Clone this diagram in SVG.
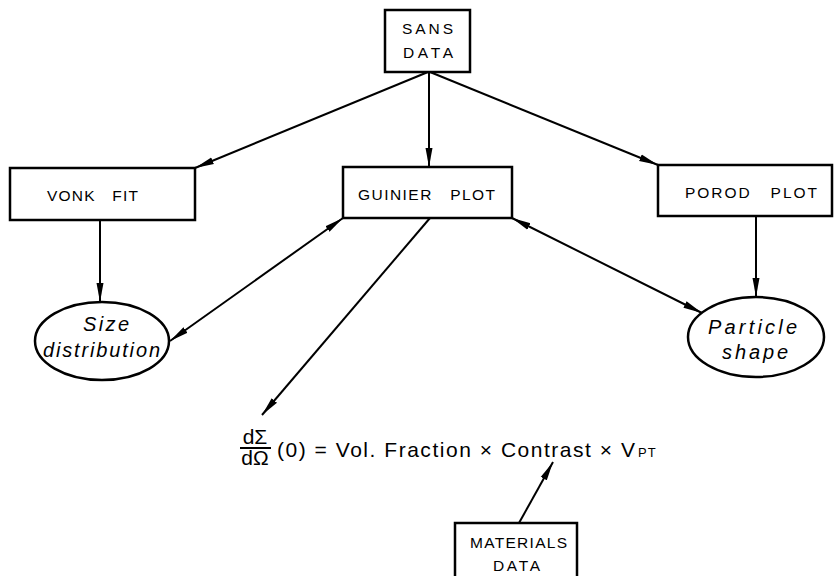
<svg xmlns="http://www.w3.org/2000/svg" width="834" height="576" viewBox="0 0 834 576">
  <style>
    .box { fill: #fff; stroke: #000; stroke-width: 2.5; }
    .oval { fill: #fff; stroke: #000; stroke-width: 2.5; }
    .lbl { font-family: "Liberation Sans", Arial, sans-serif; font-size: 15.5px; fill: #000; white-space: pre; }
    .ital { font-family: "Liberation Sans", Arial, sans-serif; font-size: 20px; font-style: italic; fill: #000; }
    .eq { font-family: "Liberation Sans", Arial, sans-serif; font-size: 21px; fill: #000; white-space: pre; }
    .sub { font-family: "Liberation Sans", Arial, sans-serif; font-size: 13px; fill: #000; letter-spacing: 1px; }
    .edge { stroke: #000; stroke-width: 2; fill: none; }
  </style>
  <defs>
    <marker id="head" markerUnits="userSpaceOnUse" markerWidth="20" markerHeight="10" refX="19" refY="5" orient="auto-start-reverse">
      <path d="M0,1.5 L19,5 L0,8.5 z" fill="#000"/>
    </marker>
  </defs>

  <rect width="834" height="576" fill="#fff"/>

  <g id="connectors">
    <line class="edge" x1="428" y1="72" x2="195" y2="168" marker-end="url(#head)"/>
    <line class="edge" x1="429" y1="72" x2="429" y2="167" marker-end="url(#head)"/>
    <line class="edge" x1="430" y1="72" x2="658" y2="165" marker-end="url(#head)"/>
    <line class="edge" x1="100" y1="220" x2="100" y2="302" marker-end="url(#head)"/>
    <line class="edge" x1="756" y1="216" x2="756" y2="297" marker-end="url(#head)"/>
    <line class="edge" x1="170" y1="341" x2="343" y2="218" marker-start="url(#head)" marker-end="url(#head)"/>
    <line class="edge" x1="512" y1="218" x2="702" y2="313" marker-start="url(#head)" marker-end="url(#head)"/>
    <line class="edge" x1="430" y1="218" x2="262" y2="415" marker-end="url(#head)"/>
    <line class="edge" x1="519" y1="523" x2="553" y2="462" marker-end="url(#head)"/>
  </g>

  <g id="sans-data">
    <rect class="box" x="385" y="10" width="85" height="62"/>
    <text class="lbl" x="402" y="34" textLength="51" lengthAdjust="spacing">SANS</text>
    <text class="lbl" x="403" y="58" textLength="50" lengthAdjust="spacing">DATA</text>
  </g>

  <g id="vonk-fit">
    <rect class="box" x="10" y="168" width="185" height="52"/>
    <text class="lbl" x="47" y="201" textLength="91" lengthAdjust="spacing">VONK   FIT</text>
  </g>

  <g id="guinier-plot">
    <rect class="box" x="343" y="167" width="169" height="51"/>
    <text class="lbl" x="358" y="200" textLength="137" lengthAdjust="spacing">GUINIER   PLOT</text>
  </g>

  <g id="porod-plot">
    <rect class="box" x="658" y="165" width="174" height="51"/>
    <text class="lbl" x="685" y="198" textLength="132" lengthAdjust="spacing">POROD   PLOT</text>
  </g>

  <g id="size-distribution">
    <ellipse class="oval" cx="102" cy="341" rx="67" ry="39"/>
    <text class="ital" x="83" y="331" textLength="46" lengthAdjust="spacing">Size</text>
    <text class="ital" x="43" y="357" textLength="117" lengthAdjust="spacing">distribution</text>
  </g>

  <g id="particle-shape">
    <ellipse class="oval" cx="756" cy="337" rx="68" ry="40"/>
    <text class="ital" x="708" y="334" textLength="89" lengthAdjust="spacing">Particle</text>
    <text class="ital" x="722" y="359" textLength="66" lengthAdjust="spacing">shape</text>
  </g>

  <g id="formula">
    <text class="eq" x="255" y="444" text-anchor="middle" font-size="17">dΣ</text>
    <line x1="240" y1="448" x2="271" y2="448" stroke="#000" stroke-width="2"/>
    <text class="eq" x="255" y="465" text-anchor="middle" font-size="17">dΩ</text>
    <text class="eq" x="277" y="457" textLength="358" lengthAdjust="spacing">(0) = Vol. Fraction × Contrast × V</text>
    <text class="sub" x="638" y="457">PT</text>
  </g>

  <g id="materials-data">
    <rect class="box" x="455" y="523" width="122" height="60"/>
    <text class="lbl" x="470" y="548" textLength="97" lengthAdjust="spacing">MATERIALS</text>
    <text class="lbl" x="493" y="571" textLength="47" lengthAdjust="spacing">DATA</text>
  </g>
</svg>
